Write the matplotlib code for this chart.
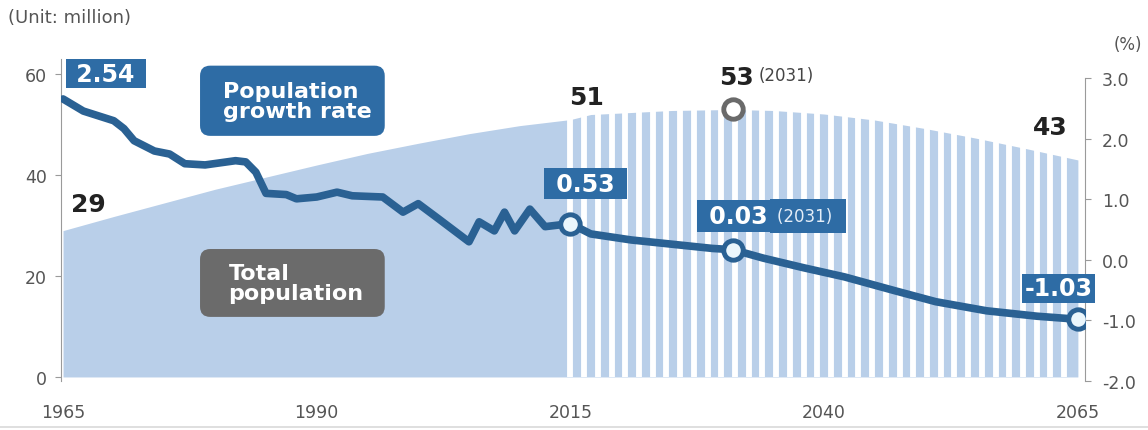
import numpy as np
import matplotlib
matplotlib.use("Agg")
import matplotlib.pyplot as plt
from matplotlib.patches import FancyBboxPatch

# Total population (million)
pop_hist_years = [1965, 1970, 1975, 1980, 1985, 1990, 1995, 2000, 2005, 2010, 2015]
pop_hist = [29.0, 31.8, 34.5, 37.2, 39.6, 42.0, 44.3, 46.3, 48.2, 49.8, 51.0]
pop_proj_years = [2015, 2017, 2020, 2025, 2031, 2035, 2040, 2045, 2050, 2055, 2060, 2065]
pop_proj = [51.0, 52.0, 52.3, 52.8, 53.0, 52.8, 52.1, 50.9, 49.2, 47.3, 45.2, 43.0]

# Population growth rate (%)
rate_years = [1965, 1967, 1968.5, 1970, 1971, 1972, 1974, 1975.5, 1977, 1979, 1982, 1983,
              1984, 1985, 1987, 1988, 1990, 1992, 1993.5, 1996.5, 1998.5, 2000, 2002, 2005,
              2006, 2007.5, 2008.5, 2009.5, 2011, 2012.5, 2015, 2017, 2021, 2025, 2029, 2031,
              2034, 2038, 2042, 2047, 2051, 2056, 2061, 2065]
rate_values = [2.66, 2.46, 2.38, 2.30, 2.17, 1.97, 1.80, 1.75, 1.59, 1.57, 1.64, 1.62,
               1.45, 1.10, 1.08, 1.01, 1.04, 1.12, 1.06, 1.04, 0.79, 0.93, 0.68, 0.30,
               0.63, 0.48, 0.79, 0.48, 0.84, 0.55, 0.60, 0.43, 0.33, 0.26, 0.19, 0.17,
               0.03, -0.13, -0.28, -0.51, -0.69, -0.84, -0.93, -0.98]

marker_years = [2015, 2031, 2065]
marker_values = [0.60, 0.17, -0.98]

x_ticks = [1965, 1990, 2015, 2040, 2065]
left_ticks = [0, 20, 40, 60]
right_ticks = [-2.0, -1.0, 0.0, 1.0, 2.0, 3.0]

AREA = '#b9cfe9'
LINE = '#2a6193'
BOX = '#2e6ca5'
GRAY_BOX = '#6b6b6b'
TICK = '#555555'
NUM = '#222222'

fig = plt.figure(figsize=(11.48, 4.31), dpi=100)
ax = fig.add_axes([61 / 1148, 49 / 431, 1024 / 1148, 322 / 431])
ax2 = ax.twinx()

# population area, projection part striped
ax.fill_between(pop_hist_years, 0, pop_hist, color=AREA, lw=0, zorder=1)
ax.fill_between(pop_proj_years, 0, pop_proj, color=AREA, lw=0, zorder=1)
n_stripes = 37
stripe_x = [2015 + k * (2065 - 2015) / n_stripes for k in range(n_stripes)]
ax.vlines(stripe_x, 0, 60, colors='white', lw=4.2, zorder=2)
ax.plot([2031], [53], marker='o', ms=14, mfc='white', mec='#6a6a6a', mew=3.5, zorder=5)

ax.set_xlim(1964.8, 2065.7)
ax.set_ylim(-0.8, 63.0)
ax2.set_ylim(-2.0, 3.32)

# growth rate line
ax2.plot(rate_years, rate_values, color=LINE, lw=5.5, solid_joinstyle='round',
         solid_capstyle='round', zorder=3)
ax2.plot(marker_years, marker_values, ls='none', marker='o', ms=14, mfc='#eaf6fc',
         mec=LINE, mew=3.5, zorder=4)

# spines and ticks
for s in ['top', 'bottom']:
    ax.spines[s].set_visible(False)
    ax2.spines[s].set_visible(False)
ax2.spines['left'].set_visible(False)
ax.spines['right'].set_visible(False)
ax.spines['left'].set_color('#9a9a9a')
ax.spines['left'].set_linewidth(0.8)
ax2.spines['right'].set_color('#9a9a9a')
ax2.spines['right'].set_linewidth(0.8)
ax2.spines['right'].set_bounds(-2.0, 3.0)

ax.set_xticks(x_ticks)
ax.set_xticklabels([str(y) for y in x_ticks])
ax.tick_params(axis='x', length=0, pad=16, labelsize=12.5, labelcolor=TICK)
ax.set_yticks(left_ticks)
ax.tick_params(axis='y', length=4, width=0.8, color='#9a9a9a', pad=6,
               labelsize=12.5, labelcolor=TICK)
ax2.set_yticks(right_ticks)
ax2.set_yticklabels([f"{v:.1f}" for v in right_ticks])
ax2.tick_params(axis='y', length=4, width=0.8, color='#9a9a9a', pad=8,
                labelsize=12.5, labelcolor=TICK)

# value boxes
ax2.text(1969.2, 3.08, " 2.54 ", color='white', fontsize=17, fontweight='bold',
         ha='center', va='center', zorder=10,
         bbox=dict(boxstyle='square,pad=0.12', fc=BOX, ec='none'))
ax2.text(2016.5, 1.26, " 0.53 ", color='white', fontsize=17, fontweight='bold',
         ha='center', va='center', zorder=10,
         bbox=dict(boxstyle='square,pad=0.16', fc=BOX, ec='none'))
ax2.text(2063.1, -0.47, "-1.03", color='white', fontsize=17, fontweight='bold',
         ha='center', va='center', zorder=10,
         bbox=dict(boxstyle='square,pad=0.12', fc=BOX, ec='none'))
ax2.text(2027.86, 0.727, " 0.03", color='white', fontsize=17, fontweight='bold',
         ha='left', va='center', zorder=10,
         bbox=dict(boxstyle='square,pad=0.16', fc=BOX, ec='none'))
ax2.text(2035.4, 0.727, "(2031) ", color='#e4eef8', fontsize=12, ha='left', va='center',
         zorder=10, bbox=dict(boxstyle='square,pad=0.47', fc=BOX, ec='none'))

# legend-like rounded boxes
ax2.add_patch(FancyBboxPatch((1978.5, 2.05), 18.2, 1.16,
                             boxstyle='round,pad=0,rounding_size=1.0',
                             mutation_aspect=0.168, fc=BOX, ec='none', zorder=9))
ax2.text(1980.8, 2.63, "Population\ngrowth rate", color='white', fontsize=16,
         fontweight='bold', ha='left', va='center', linespacing=1.0, zorder=10)
ax.add_patch(FancyBboxPatch((1978.5, 11.9), 18.2, 13.45,
                            boxstyle='round,pad=0,rounding_size=1.0',
                            mutation_aspect=2.01, fc=GRAY_BOX, ec='none', zorder=9))
ax.text(1981.3, 18.6, "Total\npopulation", color='white', fontsize=16,
        fontweight='bold', ha='left', va='center', linespacing=1.0, zorder=10)

# population values
ax.text(1967.5, 34.2, "29", fontsize=18, fontweight='bold', color=NUM,
        ha='center', va='center', zorder=10)
ax.text(2016.6, 55.4, "51", fontsize=18, fontweight='bold', color=NUM,
        ha='center', va='center', zorder=10)
ax.text(2031.4, 59.4, "53", fontsize=18, fontweight='bold', color=NUM,
        ha='center', va='center', zorder=10)
ax.text(2033.5, 59.8, "(2031)", fontsize=12, color='#444444', ha='left', va='center',
        zorder=10)
ax.text(2062.3, 49.5, "43", fontsize=18, fontweight='bold', color=NUM,
        ha='center', va='center', zorder=10)

fig.text(8 / 1148, 1 - 18 / 431, "(Unit: million)", fontsize=13, color=TICK,
         ha='left', va='center')
fig.text(1128 / 1148, 1 - 45 / 431, "(%)", fontsize=12, color=TICK,
         ha='center', va='center')

fig.add_artist(plt.Line2D([0, 1], [3 / 431, 3 / 431], color='#d9d9d9', lw=1.2,
                          transform=fig.transFigure))

fig.savefig("out.png", dpi=100)
